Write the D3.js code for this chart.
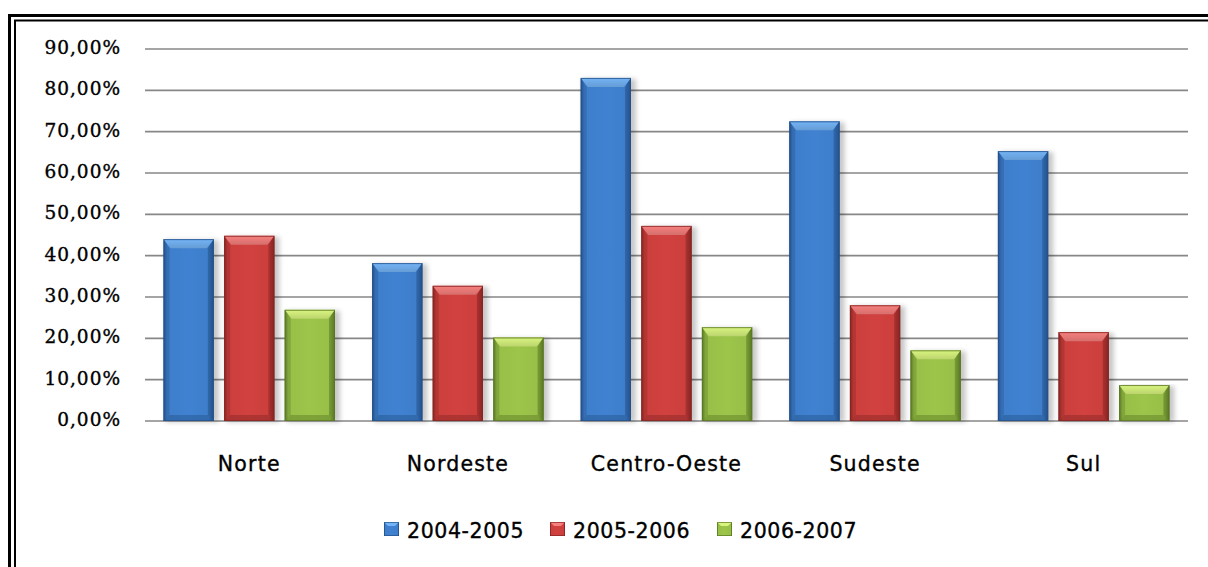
<!DOCTYPE html>
<html>
<head>
<meta charset="utf-8">
<script src="https://cdn.jsdelivr.net/npm/d3@7"></script>
<style>
  html, body { margin: 0; padding: 0; background: #fff; overflow: hidden; }
  #chart-container { width: 1208px; height: 567px; }
  text { stroke: #000; stroke-width: 0.35px; }
</style>
</head>
<body>
<div id="chart-container"></div>
<script>
(function() {
  'use strict';

const categories = ["Norte", "Nordeste", "Centro-Oeste", "Sudeste", "Sul"];
const seriesNames = ["2004-2005", "2005-2006", "2006-2007"];
const values0405 = [44.0, 38.2, 83.0, 72.5, 65.3];
const values0506 = [44.8, 32.7, 47.2, 28.0, 21.5];
const values0607 = [26.9, 20.2, 22.7, 17.1, 8.7];
const yTicks = [0, 10, 20, 30, 40, 50, 60, 70, 80, 90];

const W = 1208;
const H = 567;

// body, light (bevel top), dark (edges)
const colors = [
  { body: "#3e7ecb", light: "#74b4f6", dark: "#24518a" },
  { body: "#cb3f3d", light: "#f6807e", dark: "#862523" },
  { body: "#98bf48", light: "#d9f57f", dark: "#5a7824" }
];

const rows = [];
categories.forEach(function(c, i) {
  [values0405, values0506, values0607].forEach(function(arr, s) {
    rows.push({ cat: c, series: seriesNames[s], s: s, value: arr[i] });
  });
});

const svg = d3.select("#chart-container")
  .append("svg")
    .attr("width", W)
    .attr("height", H);

const defs = svg.append("defs");

colors.forEach(function(c, s) {
  const g = defs.append("linearGradient")
    .attr("id", "body" + s)
    .attr("x1", 0).attr("x2", 1).attr("y1", 0).attr("y2", 0);
  g.append("stop").attr("offset", "0%").attr("stop-color", c.dark);
  g.append("stop").attr("offset", "7%").attr("stop-color", c.body);
  g.append("stop").attr("offset", "50%").attr("stop-color", d3.color(c.body).brighter(0.08));
  g.append("stop").attr("offset", "90%").attr("stop-color", c.body);
  g.append("stop").attr("offset", "100%").attr("stop-color", c.dark);

  const t = defs.append("linearGradient")
    .attr("id", "top" + s)
    .attr("x1", 0).attr("x2", 0).attr("y1", 0).attr("y2", 1);
  t.append("stop").attr("offset", "0%").attr("stop-color", c.light);
  t.append("stop").attr("offset", "100%").attr("stop-color", d3.color(c.light).darker(0.4));
});

const shadow = defs.append("filter").attr("id", "shadow")
  .attr("x", "-20%").attr("y", "-5%").attr("width", "150%").attr("height", "115%");
shadow.append("feGaussianBlur").attr("stdDeviation", 2.5);

// double frame
svg.append("rect")
  .attr("x", 9.5).attr("y", 15.5)
  .attr("width", W + 40).attr("height", H + 40)
  .attr("fill", "none").attr("stroke", "#000").attr("stroke-width", 3);
svg.append("rect")
  .attr("x", 15).attr("y", 20.5)
  .attr("width", W + 40).attr("height", H + 40)
  .attr("fill", "none").attr("stroke", "#000").attr("stroke-width", 2);

const x0 = d3.scaleBand()
  .domain(categories)
  .range([145, 1188]);

const x1 = d3.scaleBand()
  .domain(seriesNames)
  .range([18.5, 190])
  .paddingInner(0.17);

const y = d3.scaleLinear()
  .domain([0, 90])
  .range([421, 49]);

// grid
svg.append("g")
  .selectAll("line")
  .data(yTicks)
  .enter()
  .append("line")
    .attr("x1", 145).attr("x2", 1188)
    .attr("y1", (d) => y(d)).attr("y2", (d) => y(d))
    .attr("stroke", "#878787")
    .attr("stroke-width", 1.6);

// y labels
svg.append("g")
  .selectAll("text")
  .data(yTicks)
  .enter()
  .append("text")
    .attr("x", 121)
    .attr("y", (d) => y(d) + 5)
    .attr("text-anchor", "end")
    .attr("font-family", "DejaVu Serif")
    .attr("font-size", 18.5)
    .attr("letter-spacing", 1)
    .attr("fill", "#000")
    .text((d) => d.toFixed(2).replace(".", ",") + "%");

// bars
const bars = svg.append("g")
  .selectAll("g")
  .data(rows)
  .enter()
  .append("g")
    .attr("transform", (d) => `translate(${x0(d.cat) + x1(d.series)},0)`);

const bw = x1.bandwidth();

bars.append("rect")
  .attr("x", 2).attr("y", (d) => y(d.value) + 1)
  .attr("width", bw + 3)
  .attr("height", (d) => y(0) - y(d.value))
  .attr("fill", "#000")
  .attr("opacity", 0.22)
  .attr("filter", "url(#shadow)");

bars.append("rect")
  .attr("x", 0).attr("y", (d) => y(d.value))
  .attr("width", bw)
  .attr("height", (d) => y(0) - y(d.value))
  .attr("fill", (d) => `url(#body${d.s})`);

// bottom bevel
bars.append("path")
  .attr("d", function(d) {
    const b = y(0);
    return `M0,${b} L${bw},${b} L${bw - 6},${b - 6} L6,${b - 6} Z`;
  })
  .attr("fill", (d) => colors[d.s].dark)
  .attr("opacity", 0.45);

// side bevels
bars.append("path")
  .attr("d", function(d) {
    const t = y(d.value), b = y(0);
    return `M0,${t} L6,${t + 9} L6,${b - 6} L0,${b} Z`;
  })
  .attr("fill", (d) => colors[d.s].dark)
  .attr("opacity", 0.35);
bars.append("path")
  .attr("d", function(d) {
    const t = y(d.value), b = y(0);
    return `M${bw},${t} L${bw - 6},${t + 9} L${bw - 6},${b - 6} L${bw},${b} Z`;
  })
  .attr("fill", (d) => colors[d.s].dark)
  .attr("opacity", 0.55);

// top bevel
bars.append("path")
  .attr("d", function(d) {
    const t = y(d.value);
    return `M0,${t} L${bw},${t} L${bw - 7},${t + 9} L7,${t + 9} Z`;
  })
  .attr("fill", (d) => `url(#top${d.s})`);

bars.append("rect")
  .attr("x", 0.5).attr("y", (d) => y(d.value) + 0.5)
  .attr("width", bw - 1)
  .attr("height", (d) => y(0) - y(d.value) - 1)
  .attr("fill", "none")
  .attr("stroke", (d) => colors[d.s].dark)
  .attr("stroke-width", 1)
  .attr("opacity", 0.8);

// category labels
svg.append("g")
  .selectAll("text")
  .data(categories)
  .enter()
  .append("text")
    .attr("x", (d) => x0(d) + x0.bandwidth() / 2)
    .attr("y", 471)
    .attr("text-anchor", "middle")
    .attr("font-family", "DejaVu Sans")
    .attr("font-size", 20.5)
    .attr("letter-spacing", 1.2)
    .attr("fill", "#000")
    .text((d) => d);

// legend
const legendX = [384, 550, 717];
const legend = svg.append("g")
  .selectAll("g")
  .data(seriesNames)
  .enter()
  .append("g")
    .attr("transform", (d, i) => `translate(${legendX[i]},522)`);

legend.append("rect")
  .attr("width", 15).attr("height", 14)
  .attr("fill", (d, i) => `url(#body${i})`);
legend.append("path")
  .attr("d", "M0,0 L15,0 L11,4 L4,4 Z")
  .attr("fill", (d, i) => colors[i].light);
legend.append("rect")
  .attr("x", 0.5).attr("y", 0.5)
  .attr("width", 14).attr("height", 13)
  .attr("fill", "none")
  .attr("stroke", (d, i) => colors[i].dark)
  .attr("opacity", 0.7);

legend.append("text")
  .attr("x", 23)
  .attr("y", 16)
  .attr("font-family", "DejaVu Sans")
  .attr("font-size", 20.5)
  .attr("letter-spacing", 0.6)
  .attr("fill", "#000")
  .text((d) => d);

})();
</script>
</body>
</html>
